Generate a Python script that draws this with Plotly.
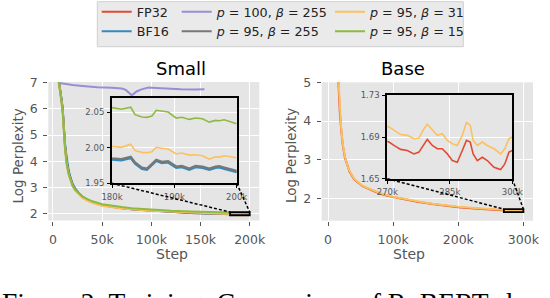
import plotly.graph_objects as go

W, H = 550, 298

# ---------------- data ----------------
names = ["FP32", "BF16", "<i>p</i> = 100, <i>β</i> = 255", "<i>p</i> = 95, <i>β</i> = 255",
         "<i>p</i> = 95, <i>β</i> = 31", "<i>p</i> = 95, <i>β</i> = 15"]
colors = ["#E24A33", "#348ABD", "#988ED5", "#777777", "#FBC15E", "#8EBA42"]

# Small model
small_steps_coarse = [5000, 7000, 9000, 10000, 11000, 12000, 13000, 14000, 16000, 18000, 20000, 23000, 26000,
                      30000, 35000, 40000, 50000, 60000, 70000, 80000, 90000, 100000, 120000, 140000, 160000, 175000]
small_steps_fine = [180000, 181500, 183000, 183700, 184800, 185600, 186400, 187100, 188000, 189000, 190300,
                    191200, 192400, 193400, 194500, 195600, 196600, 197200, 198000, 199300, 200000]

fp32_small_coarse = [7.30, 6.85, 6.25, 5.90, 5.15, 4.70, 4.30, 3.95, 3.55, 3.28, 3.08, 2.90, 2.77, 2.64, 2.53,
                     2.45, 2.33, 2.27, 2.22, 2.18, 2.15, 2.12, 2.08, 2.04, 2.01, 1.99]
bf16_small_coarse = [7.30, 6.88, 6.30, 5.95, 5.25, 4.80, 4.42, 4.08, 3.65, 3.36, 3.15, 2.95, 2.80, 2.66, 2.54,
                     2.46, 2.34, 2.27, 2.22, 2.18, 2.15, 2.12, 2.08, 2.04, 2.01, 1.99]
p95b255_small_coarse = [7.30, 6.85, 6.27, 5.92, 5.18, 4.73, 4.33, 3.98, 3.58, 3.30, 3.10, 2.91, 2.78, 2.65, 2.54,
                        2.46, 2.34, 2.28, 2.23, 2.19, 2.16, 2.13, 2.09, 2.05, 2.02, 1.995]
p95b31_small_coarse = [7.28, 6.80, 6.20, 5.85, 5.10, 4.65, 4.25, 3.90, 3.50, 3.24, 3.05, 2.87, 2.74, 2.61, 2.50,
                       2.42, 2.31, 2.25, 2.21, 2.18, 2.15, 2.12, 2.09, 2.05, 2.025, 2.01]
p95b15_small_coarse = [7.25, 6.75, 6.15, 5.80, 5.05, 4.60, 4.20, 3.88, 3.50, 3.25, 3.07, 2.90, 2.78, 2.66, 2.56,
                       2.48, 2.37, 2.31, 2.26, 2.22, 2.19, 2.16, 2.12, 2.09, 2.07, 2.06]

fp32_small_fine = [1.9838, 1.9830, 1.9862, 1.9780, 1.9708, 1.9697, 1.9757, 1.9820, 1.9792, 1.9802, 1.9724,
                   1.9735, 1.9697, 1.9736, 1.9725, 1.9697, 1.9728, 1.9733, 1.9712, 1.9678, 1.9663]
bf16_small_fine = [1.9831, 1.9822, 1.9855, 1.9774, 1.9703, 1.9689, 1.9751, 1.9813, 1.9784, 1.9793, 1.9717,
                   1.9727, 1.9689, 1.9727, 1.9717, 1.9689, 1.9717, 1.9722, 1.9703, 1.9670, 1.9656]
p95b255_small_fine = [1.9850, 1.9841, 1.9874, 1.9793, 1.9722, 1.9708, 1.9769, 1.9831, 1.9803, 1.9813, 1.9736,
                      1.9746, 1.9708, 1.9746, 1.9736, 1.9708, 1.9736, 1.9741, 1.9722, 1.9689, 1.9675]
p95b31_small_fine = [2.0020, 2.0006, 2.0049, 1.9959, 1.9935, 1.9930, 1.9945, 2.0006, 1.9992, 1.9983, 1.9912,
                     1.9926, 1.9897, 1.9902, 1.9888, 1.9840, 1.9874, 1.9869, 1.9888, 1.9864, 1.9859]
p95b15_small_fine = [2.0565, 2.0541, 2.0570, 2.0466, 2.0432, 2.0428, 2.0446, 2.0527, 2.0513, 2.0503, 2.0418,
                     2.0428, 2.0399, 2.0418, 2.0409, 2.0361, 2.0385, 2.0380, 2.0394, 2.0352, 2.0338]

p100_steps = [5000, 10000, 20000, 30000, 45000, 60000, 70000, 74000, 77000, 80000, 82000, 85000, 90000,
              97000, 105000, 115000, 130000, 145000, 154000]
p100_vals = [6.99, 6.96, 6.91, 6.87, 6.82, 6.80, 6.77, 6.72, 6.62, 6.52, 6.57, 6.66, 6.74, 6.81, 6.79,
             6.76, 6.74, 6.73, 6.74]

# Base model
base_steps_coarse = [15000, 16000, 18000, 20000, 22500, 26000, 30000, 33000, 40000, 53000, 71000, 85000,
                     100000, 120000, 137000, 160000, 180000, 200000, 230000, 250000, 265000]
base_steps_fine = [270400, 271600, 273200, 274800, 276400, 277600, 278800, 279600, 280800, 282000, 283200,
                   284400, 285600, 286800, 288000, 289000, 289900, 290600, 291600, 292800, 294000, 295600,
                   297200, 298200, 299200, 300000]
fp32_base_coarse = [5.35, 4.95, 4.25, 3.82, 3.39, 3.05, 2.82, 2.70, 2.50, 2.32, 2.19, 2.10, 2.04, 1.97, 1.92,
                    1.86, 1.82, 1.78, 1.74, 1.715, 1.692]
p95b31_base_coarse = [5.40, 5.00, 4.30, 3.86, 3.42, 3.08, 2.84, 2.72, 2.51, 2.33, 2.20, 2.11, 2.05, 1.98, 1.93,
                      1.87, 1.83, 1.79, 1.75, 1.725, 1.705]
fp32_base_fine = [1.6852, 1.6819, 1.6781, 1.6771, 1.6738, 1.6755, 1.6835, 1.6877, 1.6819, 1.6787, 1.6787,
                  1.6738, 1.6674, 1.6658, 1.6771, 1.6868, 1.6852, 1.6738, 1.6674, 1.6706, 1.6674, 1.6609,
                  1.6587, 1.6642, 1.6755, 1.6770]
p95b31_base_fine = [1.6997, 1.6965, 1.6923, 1.6916, 1.6884, 1.6890, 1.6981, 1.7023, 1.6965, 1.6916, 1.6932,
                    1.6868, 1.6835, 1.6819, 1.6916, 1.7039, 1.7013, 1.6868, 1.6819, 1.6852, 1.6819, 1.6787,
                    1.6738, 1.6787, 1.6884, 1.6900]

# ticks
small_xticks = [0, 50000, 100000, 150000, 200000]
small_xlabels = ["0", "50k", "100k", "150k", "200k"]
small_yticks = [2, 3, 4, 5, 6, 7]
base_xticks = [0, 100000, 200000, 300000]
base_xlabels = ["0", "100k", "200k", "300k"]
base_yticks = [2, 3, 4, 5]
small_in_xticks = [180000, 190000, 200000]
small_in_xlabels = ["180k", "190k", "200k"]
small_in_yticks = [1.95, 2.00, 2.05]
small_in_ylabels = ["1.95", "2.00", "2.05"]
base_in_xticks = [270000, 285000, 300000]
base_in_xlabels = ["270k", "285k", "300k"]
base_in_yticks = [1.65, 1.69, 1.73]
base_in_ylabels = ["1.65", "1.69", "1.73"]

# ---------------- layout geometry (pixels) ----------------
def px_x(p):
    return p / W

def px_y(p):
    return 1 - p / H

small_dom_x = [px_x(48.3), px_x(259.3)]
small_dom_y = [px_y(220.5), px_y(82)]
base_dom_x = [px_x(321.7), px_x(533)]
base_dom_y = [px_y(220.7), px_y(82.3)]
sin_dom_x = [px_x(112), px_x(236.7)]
sin_dom_y = [px_y(183.3), px_y(98)]
bin_dom_x = [px_x(387.3), px_x(512.3)]
bin_dom_y = [px_y(178.7), px_y(95.3)]

small_xr = [-4750, 209750]
small_yr = [1.75, 7.02]
base_xr = [-9750, 314750]
base_yr = [1.43, 5.0]
sin_xr = [180000, 200000]
sin_yr = [1.95, 2.07]
bin_xr = [270000, 300000]
bin_yr = [1.65, 1.73]

FONT = "DejaVu Sans"
GRAY = "#555555"
BG = "#E5E5E5"

fig = go.Figure()

small_fine = [fp32_small_fine, bf16_small_fine, None, p95b255_small_fine, p95b31_small_fine, p95b15_small_fine]
small_coarse = [fp32_small_coarse, bf16_small_coarse, None, p95b255_small_coarse, p95b31_small_coarse,
                p95b15_small_coarse]
legend_of = ["legend", "legend", "legend2", "legend2", "legend3", "legend3"]

for i in range(6):
    if i == 2:
        xs, ys = p100_steps, p100_vals
    else:
        xs = small_steps_coarse + small_steps_fine
        ys = small_coarse[i] + small_fine[i]
    fig.add_trace(go.Scatter(x=xs, y=ys, mode="lines", name=names[i], line=dict(color=colors[i], width=2),
                             xaxis="x", yaxis="y", legend=legend_of[i], showlegend=True))
    if i != 2:
        fig.add_trace(go.Scatter(x=xs, y=ys, mode="lines", name=names[i],
                                 line=dict(color=colors[i], width=2.2 if i in (1, 3) else 1.6),
                                 xaxis="x3", yaxis="y3", showlegend=False))

base_series = [(0, fp32_base_coarse + fp32_base_fine), (4, p95b31_base_coarse + p95b31_base_fine)]
for idx, ys in base_series:
    xs = base_steps_coarse + base_steps_fine
    fig.add_trace(go.Scatter(x=xs, y=ys, mode="lines", name=names[idx], line=dict(color=colors[idx], width=2),
                             xaxis="x2", yaxis="y2", showlegend=False))
    fig.add_trace(go.Scatter(x=xs, y=ys, mode="lines", name=names[idx], line=dict(color=colors[idx], width=1.6),
                             xaxis="x4", yaxis="y4", showlegend=False))

def main_axis(dom, rng, tickvals, ticktext=None, anchor=None):
    d = dict(domain=dom, range=rng, tickvals=tickvals, showgrid=True, gridcolor="white", gridwidth=1,
             zeroline=False, showline=False, ticks="outside", ticklen=4, tickcolor=GRAY, tickwidth=1,
             tickfont=dict(family=FONT, size=12.5, color=GRAY), anchor=anchor, ticklabelstandoff=3,
             automargin=False)
    if ticktext is not None:
        d["ticktext"] = ticktext
    return d

def inset_axis(dom, rng, tickvals, ticktext, anchor):
    return dict(domain=dom, range=rng, tickvals=tickvals, ticktext=ticktext, showgrid=True, gridcolor="white",
                gridwidth=1, zeroline=False, showline=True, mirror=True, linecolor="black", linewidth=2,
                ticks="outside", ticklen=3, tickcolor="black", tickwidth=1,
                tickfont=dict(family=FONT, size=8.5, color=GRAY), anchor=anchor, ticklabelstandoff=1,
                automargin=False)

fig.update_layout(
    width=W, height=H, margin=dict(l=0, r=0, t=0, b=0, autoexpand=False),
    paper_bgcolor="white", plot_bgcolor=BG,
    xaxis=main_axis(small_dom_x, small_xr, small_xticks, small_xlabels, "y"),
    yaxis=main_axis(small_dom_y, small_yr, small_yticks, None, "x"),
    xaxis2=main_axis(base_dom_x, base_xr, base_xticks, base_xlabels, "y2"),
    yaxis2=main_axis(base_dom_y, base_yr, base_yticks, None, "x2"),
    xaxis3=inset_axis(sin_dom_x, sin_xr, small_in_xticks, small_in_xlabels, "y3"),
    yaxis3=inset_axis(sin_dom_y, sin_yr, small_in_yticks, small_in_ylabels, "x3"),
    xaxis4=inset_axis(bin_dom_x, bin_xr, base_in_xticks, base_in_xlabels, "y4"),
    yaxis4=inset_axis(bin_dom_y, bin_yr, base_in_yticks, base_in_ylabels, "x4"),
    showlegend=True,
)

leg_common = dict(orientation="v", bgcolor="rgba(0,0,0,0)", borderwidth=0, xanchor="left", yanchor="top",
                  font=dict(family=FONT, size=12.7, color="#222222"), itemwidth=30, tracegroupgap=0)
fig.update_layout(
    legend=dict(x=px_x(96.7), y=px_y(-3), **leg_common),
    legend2=dict(x=px_x(176.7), y=px_y(-3), **leg_common),
    legend3=dict(x=px_x(330), y=px_y(-3), **leg_common),
)

def to_paper(v, rng, dom):
    return dom[0] + (v - rng[0]) / (rng[1] - rng[0]) * (dom[1] - dom[0])

shapes = []
# legend frame
shapes.append(dict(type="rect", xref="paper", yref="paper", x0=px_x(97.3), x1=px_x(463.3),
                   y0=px_y(46.7), y1=px_y(1.7), fillcolor="#EAEAEA", line=dict(color="#CFCFCF", width=1),
                   layer="below"))
# zoom rectangles + connectors
for (xr_in, yr_in, dx_in, dy_in, xr_m, yr_m, dx_m, dy_m, xref, yref) in [
        (sin_xr, sin_yr, sin_dom_x, sin_dom_y, small_xr, small_yr, small_dom_x, small_dom_y, "x", "y"),
        (bin_xr, bin_yr, bin_dom_x, bin_dom_y, base_xr, base_yr, base_dom_x, base_dom_y, "x2", "y2")]:
    shapes.append(dict(type="rect", xref=xref, yref=yref, x0=xr_in[0], x1=xr_in[1], y0=yr_in[0], y1=yr_in[1],
                       line=dict(color="black", width=1.8), layer="above"))
    for xv in xr_in:
        shapes.append(dict(type="line", xref="paper", yref="paper",
                           x0=to_paper(xv, xr_in, dx_in), y0=to_paper(yr_in[0], yr_in, dy_in),
                           x1=to_paper(xv, xr_m, dx_m), y1=to_paper(yr_in[1], yr_m, dy_m),
                           line=dict(color="black", width=1.5, dash="3px,2px"), layer="above"))
fig.update_layout(shapes=shapes)

ann = []
ann.append(dict(text="Small", x=(small_dom_x[0] + small_dom_x[1]) / 2, y=px_y(68), xref="paper", yref="paper",
                showarrow=False, font=dict(family=FONT, size=18, color="black"), yanchor="middle"))
ann.append(dict(text="Base", x=(base_dom_x[0] + base_dom_x[1]) / 2, y=px_y(68), xref="paper", yref="paper",
                showarrow=False, font=dict(family=FONT, size=18, color="black"), yanchor="middle"))
for cx in [(small_dom_x[0] + small_dom_x[1]) / 2, (base_dom_x[0] + base_dom_x[1]) / 2]:
    ann.append(dict(text="Step", x=cx, y=px_y(254), xref="paper", yref="paper", showarrow=False,
                    font=dict(family=FONT, size=14, color=GRAY), yanchor="middle"))
for cx, cy in [(px_x(17.5), px_y(156)), (px_x(291), px_y(156))]:
    ann.append(dict(text="Log Perplexity", x=cx, y=cy, xref="paper", yref="paper", showarrow=False,
                    textangle=-90, font=dict(family=FONT, size=13.5, color=GRAY), xanchor="center",
                    yanchor="middle"))
ann.append(dict(text="Figure 2: Training: Comparison of RoBERTa loss", x=px_x(0), y=px_y(284.5),
                xref="paper", yref="paper", showarrow=False, xanchor="left", yanchor="top",
                font=dict(family="Liberation Serif", size=27.5, color="black")))
fig.update_layout(annotations=ann)

fig.write_html("out.html", config={"displayModeBar": False},
               post_script="document.body.style.margin='0';document.body.style.padding='0';")
